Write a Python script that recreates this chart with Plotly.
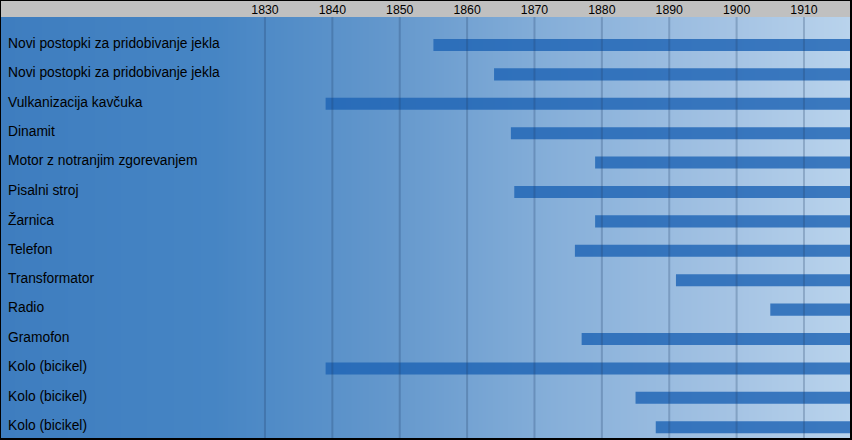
import plotly.graph_objects as go
import numpy as np

# ---- data ----
labels = [
    "Novi postopki za pridobivanje jekla",
    "Novi postopki za pridobivanje jekla",
    "Vulkanizacija kavčuka",
    "Dinamit",
    "Motor z notranjim zgorevanjem",
    "Pisalni stroj",
    "Žarnica",
    "Telefon",
    "Transformator",
    "Radio",
    "Gramofon",
    "Kolo (bicikel)",
    "Kolo (bicikel)",
    "Kolo (bicikel)",
]
start_year = [1855, 1864, 1839, 1866.5, 1879, 1867, 1879, 1876, 1891, 1905, 1877, 1839, 1885, 1888]
end_year = [1920] * len(labels)
tick_years = [1830, 1840, 1850, 1860, 1870, 1880, 1890, 1900, 1910]

x_min, x_max = 1790.82, 1916.83
rows = list(range(len(labels)))

fig = go.Figure()

# background gradient
bg_x = np.linspace(1789, 1919, 131)
t = (bg_x - x_min) / (x_max - x_min)
fig.add_trace(go.Heatmap(
    x=bg_x, y=[-1.5, 14.5], z=[t, t],
    colorscale=[[0, "#3e7dbf"], [0.25, "#4685c4"], [0.45, "#6397cc"],
                [0.65, "#86afd9"], [0.85, "#a3c2e3"], [1, "#b9d3ec"]],
    zmin=0, zmax=1, zsmooth="best", showscale=False, hoverinfo="skip",
))

fig.add_trace(go.Bar(
    orientation="h", y=rows, base=start_year,
    x=[e - s for s, e in zip(start_year, end_year)],
    width=0.41, marker=dict(color="rgba(30,100,180,0.82)", line=dict(width=0)),
    hoverinfo="skip",
))

shapes = []
for yr in tick_years:
    shapes.append(dict(type="line", xref="x", yref="paper", x0=yr, x1=yr, y0=0, y1=1,
                       line=dict(color="rgba(30,60,100,0.25)", width=2), layer="above"))
plot_h = 440 - 17 - 2
shapes.append(dict(type="rect", xref="paper", yref="paper", x0=0, x1=1,
                   y0=1, y1=1 + 16 / plot_h, fillcolor="#c0c0c0", line=dict(width=0),
                   layer="below"))

annotations = []
for i, lab in enumerate(labels):
    annotations.append(dict(text=lab, xref="paper", yref="y", x=5 / 849, y=i - 0.06,
                            xanchor="left", yanchor="middle", showarrow=False,
                            font=dict(family="Liberation Sans", size=13.8, color="black")))

fig.update_layout(
    width=852, height=440,
    margin=dict(l=1, r=2, t=17, b=2),
    paper_bgcolor="black", plot_bgcolor="#3e7dbf",
    showlegend=False, hovermode=False,
    shapes=shapes, annotations=annotations,
    xaxis=dict(range=[x_min, x_max], side="top", showgrid=False, zeroline=False,
               tickvals=tick_years, ticktext=[str(y) for y in tick_years], ticks="",
               tickfont=dict(family="Liberation Sans", size=12.3, color="black"),
               showline=False, fixedrange=True),
    yaxis=dict(range=[13.367, -0.952], showgrid=False, zeroline=False,
               showticklabels=False, ticks="", showline=False, fixedrange=True),
)

fig.write_html("out.html", config={"displayModeBar": False},
               post_script="document.body.style.margin='0';document.body.style.padding='0';")
